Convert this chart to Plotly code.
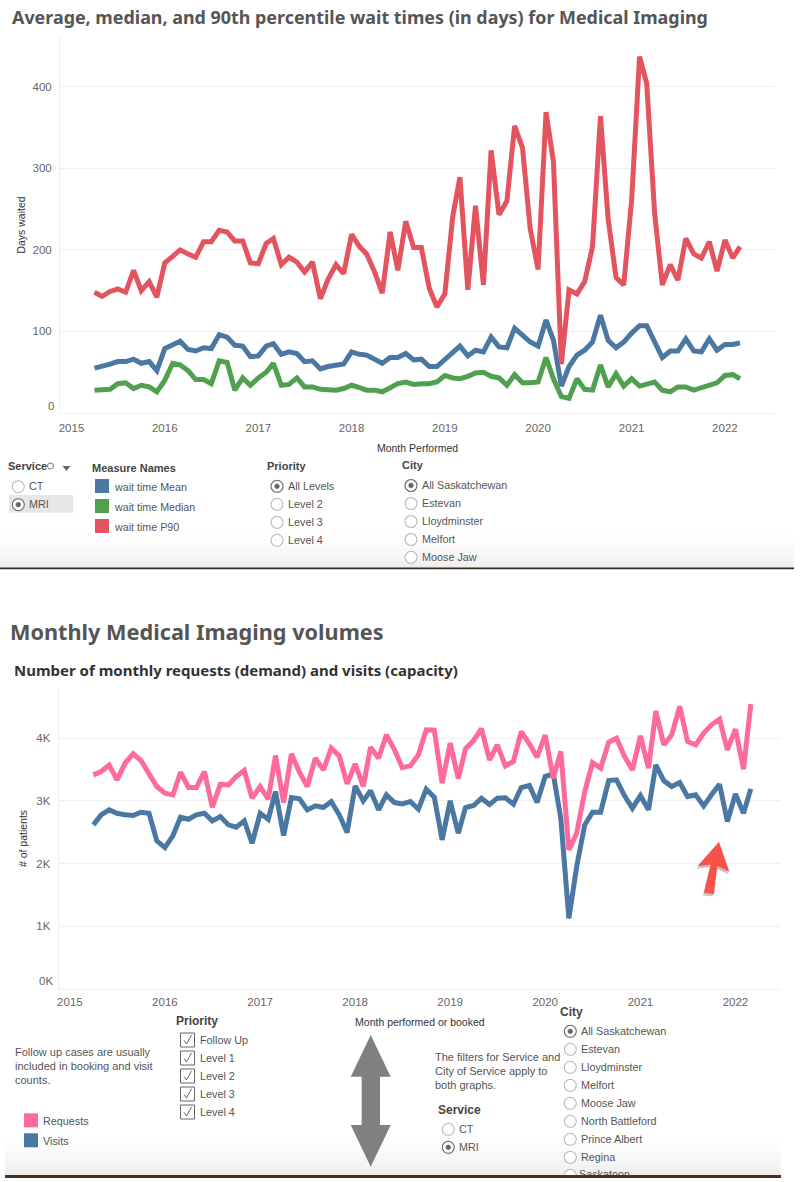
import plotly.graph_objects as go

W, H = 800, 1182

# ---------- data ----------
months = [f"{y}-{m:02d}-01" for y in range(2015, 2023) for m in range(1, 13)][3:87]

wait_p90 = [148, 143, 149, 152, 148, 175, 150, 161, 142, 184, 192, 200,
            195, 191, 210, 210, 224, 222, 211, 211, 184, 183, 208, 214,
            182, 191, 185, 173, 185, 140, 164, 182, 171, 219, 204, 195,
            173, 147, 222, 175, 235, 203, 203, 153, 130, 146, 241, 289,
            151, 254, 157, 322, 243, 260, 352, 325, 226, 176, 369, 308,
            60, 151, 146, 161, 204, 364, 238, 166, 157, 261, 437, 404,
            245, 157, 182, 163, 214, 195, 190, 210, 174, 212, 190, 204]
wait_mean = [55, 57, 60, 63, 63, 66, 61, 63, 52, 79, 83, 88,
             78, 76, 80, 79, 96, 93, 83, 82, 69, 70, 82, 85,
             72, 75, 73, 63, 64, 54, 57, 59, 60, 75, 72, 71,
             65, 61, 68, 68, 73, 65, 66, 57, 57, 65, 74, 82,
             70, 77, 75, 93, 81, 80, 104, 95, 87, 82, 114, 89,
             33, 57, 71, 77, 87, 120, 89, 80, 87, 98, 107, 107,
             87, 68, 76, 76, 91, 76, 75, 91, 77, 84, 84, 86]
wait_median = [28, 28, 29, 36, 37, 30, 34, 32, 26, 40, 61, 59,
               52, 41, 41, 36, 64, 62, 28, 43, 34, 43, 50, 61,
               34, 35, 43, 32, 32, 29, 29, 28, 30, 34, 31, 28,
               28, 26, 31, 36, 38, 35, 36, 36, 38, 46, 43, 42,
               45, 49, 50, 45, 43, 34, 47, 37, 37, 38, 68, 42,
               20, 18, 42, 29, 28, 59, 32, 48, 33, 42, 33, 36,
               38, 28, 26, 32, 32, 28, 31, 35, 37, 46, 47, 42]

requests = [3415, 3468, 3570, 3335, 3600, 3750, 3644, 3441, 3229, 3122, 3096, 3457,
            3213, 3213, 3468, 2899, 3266, 3255, 3388, 3484, 3043, 3229, 3027, 3723,
            2973, 3750, 3457, 3229, 3681, 3495, 3840, 3718, 3271, 3590, 3229, 3856,
            3681, 4053, 3814, 3530, 3558, 3734, 4133, 4128, 3282, 3920, 3356, 3830,
            3963, 4154, 3654, 3894, 3558, 3628, 4106, 3910, 3697, 4048, 3362, 3787,
            2218, 2484, 3149, 3612, 3521, 3936, 4000, 3707, 3495, 4037, 3521, 4431,
            3894, 4053, 4505, 3947, 3894, 4080, 4213, 4303, 3814, 4144, 3505, 4543]
visits = [2617, 2777, 2856, 2803, 2777, 2766, 2819, 2803, 2362, 2255, 2447, 2739,
          2707, 2777, 2803, 2681, 2750, 2617, 2580, 2681, 2324, 2803, 2707, 3149,
          2447, 3053, 3032, 2856, 2920, 2894, 2989, 2777, 2495, 3239, 3000, 3160,
          2856, 3096, 2973, 2952, 2989, 2867, 3186, 3059, 2378, 3000, 2484, 2894,
          2926, 3043, 2941, 3043, 3048, 2947, 3213, 3245, 2973, 3388, 3431, 2723,
          1128, 1952, 2617, 2819, 2819, 3324, 3335, 3080, 2883, 3085, 2856, 3574,
          3319, 3229, 3293, 3069, 3096, 2920, 3096, 3266, 2670, 3112, 2803, 3191]

year_ticks = [f"{y}-01-01" for y in range(2015, 2023)]
year_labels = [str(y) for y in range(2015, 2023)]
days_ticks = [100, 200, 300, 400]
volume_ticks = [1000, 2000, 3000, 4000]
volume_labels = ["1K", "2K", "3K", "4K"]

# ---------- styles ----------
C_MEAN, C_MEDIAN, C_P90 = "#4A78A3", "#51A050", "#E3545F"
C_REQ, C_VIS = "#FD6A9B", "#4A78A3"
TXT, TICK = "#555555", "#666666"
GRID = "#EFEFEF"
SANS = "Liberation Sans"
HEAD = "Noto Sans"


def fx(x):
    return x / W


def fy(y):
    return 1 - y / H


shapes, notes = [], []


def rect(x0, y0, x1, y1, fill, line=None, lw=0):
    shapes.append(dict(type="rect", xref="paper", yref="paper", x0=fx(x0), x1=fx(x1),
                       y0=fy(y0), y1=fy(y1), fillcolor=fill, layer="below",
                       line=dict(color=line or fill, width=lw)))


def circle(cx, cy, r, fill, line, lw=1):
    shapes.append(dict(type="circle", xref="paper", yref="paper", x0=fx(cx - r), x1=fx(cx + r),
                       y0=fy(cy - r), y1=fy(cy + r), fillcolor=fill, layer="above",
                       line=dict(color=line, width=lw)))


def poly(points, fill, opacity=1.0, line=None, lw=0):
    d = "M " + " L ".join(f"{fx(x):.5f} {fy(y):.5f}" for x, y in points) + " Z"
    shapes.append(dict(type="path", xref="paper", yref="paper", path=d, fillcolor=fill,
                       opacity=opacity, layer="above", line=dict(color=line or fill, width=lw)))


def text(x, y, s, size=11, color=TXT, bold=False, family=SANS, anchor="left"):
    notes.append(dict(xref="paper", yref="paper", x=fx(x), y=fy(y), text=f"<b>{s}</b>" if bold else s,
                      showarrow=False, xanchor=anchor, yanchor="middle",
                      borderpad=0, borderwidth=0,
                      font=dict(family=family, size=size, color=color)))


def radios(cx, ys, labels, selected=0, size=10.8):
    for i, (y, s) in enumerate(zip(ys, labels)):
        if i == selected:
            circle(cx, y, 6, "#FFFFFF", "#666666", 1.1)
            circle(cx, y, 2.4, "#666666", "#666666", 0.5)
        else:
            circle(cx, y, 6, "#FFFFFF", "#B9B9B9", 1.1)
        text(cx + 10.5, y - 0.5, s, size=size, color="#555555")


# ---------- panel backdrop ----------
def fade(x0, x1, y0, y1, n=14):
    step = (y1 - y0) / n
    for i in range(n):
        t = (i + 1) / n
        v = int(round(255 - 17 * t * t))
        rect(x0, y0 + i * step, x1, y0 + (i + 1) * step + 0.5, f"rgb({v},{v},{v})")


fade(0, 794, 528, 568)
rect(0, 567.6, 794, 569.2, "#3B2A20")
fade(5, 781, 1128, 1175)
rect(5, 1175, 781, 1178, "#4A3122")

# ---------- headings ----------
text(11.5, 17, "Average, median, and 90th percentile wait times (in days) for Medical Imaging",
     size=17.9, bold=True, family=HEAD, color="#555555")
text(9.5, 631, "Monthly Medical Imaging volumes", size=21.7, bold=True, family=HEAD, color="#555555")
text(13.5, 669.5, "Number of monthly requests (demand) and visits (capacity)",
     size=15, bold=True, family=HEAD, color="#333333")

# zero labels sit above their baselines in the source
text(53.5, 406, "0", size=11.5, color=TICK, anchor="right")
text(52.5, 981, "0K", size=11.5, color=TICK, anchor="right")

# ---------- top controls ----------
text(8, 466, "Service", size=11, bold=True, color="#444444")
circle(50.5, 466, 3, "rgba(0,0,0,0)", "#666666", 0.9)
poly([(62.5, 466), (70.5, 466), (66.5, 471)], "#666666")
rect(9, 495, 73, 512.7, "#E6E6E6")
radios(18.3, [486.7, 504.7], ["CT", "MRI"], selected=1)

text(92.3, 468, "Measure Names", size=11, bold=True, color="#444444")
for y, c, s in [(486, C_MEAN, "wait time Mean"), (506, C_MEDIAN, "wait time Median"), (526, C_P90, "wait time P90")]:
    rect(95, y - 7, 109, y + 7, c)
    text(114, y + 1, s, size=10.7)

text(267, 466, "Priority", size=11, bold=True, color="#444444")
radios(277, [486.3, 504.3, 522.3, 540.3], ["All Levels", "Level 2", "Level 3", "Level 4"])

text(402, 465, "City", size=11, bold=True, color="#444444")
radios(411, [485.5, 503.5, 521.5, 539.5, 557.3], ["All Saskatchewan", "Estevan", "Lloydminster", "Melfort", "Moose Jaw"])

# ---------- bottom controls ----------
for y, s in [(1052, "Follow up cases are usually"), (1066, "included in booking and visit"), (1080, "counts.")]:
    text(15, y, s, size=11)
for y, c, s in [(1120.3, C_REQ, "Requests"), (1140.3, C_VIS, "Visits")]:
    rect(24, y - 7, 38, y + 7, c)
    text(43, y + 0.7, s, size=10.8)

text(176, 1021, "Priority", size=12, bold=True, color="#444444")
for y, s in [(1040, "Follow Up"), (1058, "Level 1"), (1076, "Level 2"), (1094, "Level 3"), (1112, "Level 4")]:
    rect(180.5, y - 7, 194.5, y + 7, "#FFFFFF", "#666666", 1)
    shapes[-1]["layer"] = "above"
    d = f"M {fx(184):.5f} {fy(y + 0.5):.5f} L {fx(186.5):.5f} {fy(y + 4):.5f} L {fx(191.5):.5f} {fy(y - 5):.5f}"
    shapes.append(dict(type="path", xref="paper", yref="paper", path=d, layer="above",
                       line=dict(color="#666666", width=1)))
    text(200, y, s, size=10.8)

for y, s in [(1057, "The filters for Service and"), (1071, "City of Service apply to"), (1085, "both graphs.")]:
    text(435, y, s, size=11)

text(438, 1110, "Service", size=12, bold=True, color="#444444")
radios(448.3, [1129.3, 1147.3], ["CT", "MRI"], selected=1)

text(560, 1012, "City", size=12, bold=True, color="#444444")
radios(570.3, [1031.3, 1049.3, 1067.3, 1085.3, 1103.3, 1121.3, 1139.3, 1157.3],
       ["All Saskatchewan", "Estevan", "Lloydminster", "Melfort", "Moose Jaw", "North Battleford", "Prince Albert", "Regina"])

# grey double arrow
poly([(370.7, 1035), (390.7, 1076.7), (380, 1076.7), (380, 1125), (390.7, 1125), (370.7, 1166.7),
      (350.7, 1125), (361.7, 1125), (361.7, 1076.7), (350.7, 1076.7)], "#808080")


def red_arrow(dx, dy, fill, opacity=1.0):
    pts = [(957, 515), (988, 605), (952, 588), (942, 672), (912, 668), (932, 584), (893, 588)]
    poly([(400 + a / 3 + dx, 670 + b / 3 + dy) for a, b in pts], fill, opacity)


red_arrow(-1, 2.5, "#8A8A8A", 0.5)
red_arrow(0, 0, "#F8524A")

# ---------- figure ----------
fig = go.Figure()


def line(x, y, name, color, xa, ya):
    fig.add_trace(go.Scatter(x=x, y=y, name=name, mode="lines", xaxis=xa, yaxis=ya,
                             line=dict(color=color, width=5, shape="linear"),
                             showlegend=False, cliponaxis=False))


line(months, wait_mean, "wait time Mean", C_MEAN, "x", "y")
line(months, wait_median, "wait time Median", C_MEDIAN, "x", "y")
line(months, wait_p90, "wait time P90", C_P90, "x", "y")
line(months, visits, "Visits", C_VIS, "x2", "y2")
line(months, requests, "Requests", C_REQ, "x2", "y2")

# the city list runs off the bottom of its panel, so this row is clipped
fig.add_trace(go.Scatter(x=[570.3], y=[1175.3], mode="markers", xaxis="x3", yaxis="y3", showlegend=False,
                         marker=dict(size=12, color="#FFFFFF", line=dict(color="#B9B9B9", width=1.1)),
                         cliponaxis=True, hoverinfo="skip"))
fig.add_trace(go.Scatter(x=[579], y=[1175], mode="text", text=["Saskatoon"], textposition="middle right",
                         textfont=dict(family=SANS, size=10.8, color="#555555"), xaxis="x3", yaxis="y3",
                         showlegend=False, cliponaxis=True, hoverinfo="skip"))


def xaxis(domain, rng, title, standoff, anchor, ticklen):
    return dict(domain=domain, range=rng, type="date", tickvals=year_ticks, ticktext=year_labels,
                showgrid=False, zeroline=False, showline=True, linecolor=GRID, linewidth=1,
                ticks="outside", ticklen=ticklen, tickcolor="#FFFFFF", anchor=anchor, automargin=False,
                tickfont=dict(family=SANS, size=11.5, color=TICK),
                title=dict(text=title, standoff=standoff, font=dict(family=SANS, size=10.5, color="#333333")))


def yaxis(domain, rng, vals, labels, title, standoff, anchor):
    return dict(domain=domain, range=rng, tickvals=vals, ticktext=labels, showgrid=True, gridcolor=GRID,
                gridwidth=1, zeroline=False, showline=True, linecolor=GRID, linewidth=1,
                ticks="outside", ticklen=5, tickcolor="#FFFFFF", anchor=anchor, automargin=False,
                tickfont=dict(family=SANS, size=11.5, color=TICK),
                title=dict(text=title, standoff=standoff, font=dict(family=SANS, size=10.5, color="#333333")))


fig.update_layout(
    width=W, height=H, autosize=False, margin=dict(l=0, r=0, t=0, b=0, pad=0, autoexpand=False),
    paper_bgcolor="#FFFFFF", plot_bgcolor="rgba(0,0,0,0)", showlegend=False,
    shapes=shapes, annotations=notes,
    xaxis=xaxis([fx(60), fx(775)], ["2014-11-17", "2022-07-16"], "Month Performed", 11, "y", 4),
    yaxis=yaxis([fy(413), fy(37)], [0, 461], days_ticks, [str(v) for v in days_ticks], "Days waited", 4, "x"),
    xaxis2=xaxis([fx(58.7), fx(781)], ["2014-11-19", "2022-06-25"], "Month performed or booked", 11, "y2", 2),
    yaxis2=yaxis([fy(989), fy(688)], [0, 4800], volume_ticks, volume_labels, "# of patients", 6, "x2"),
    xaxis3=dict(domain=[0, 1], range=[0, W], visible=False, anchor="y3", automargin=False),
    yaxis3=dict(domain=[fy(1175), 1], range=[1175, 0], visible=False, anchor="x3", automargin=False),
)

fig.write_html("out.html", config=dict(displayModeBar=False),
               post_script="document.body.style.margin='0';document.body.style.overflow='hidden';")
